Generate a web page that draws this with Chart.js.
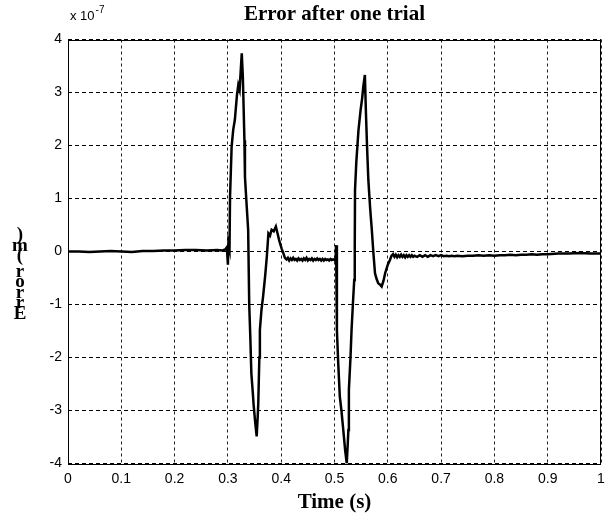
<!DOCTYPE html>
<html>
<head>
<meta charset="utf-8">
<script src="https://cdn.jsdelivr.net/npm/chart.js@4.4.1/dist/chart.umd.min.js"></script>
<style>
  html, body { margin: 0; padding: 0; background: #fff; }
  #wrap { width: 606px; height: 521px; }
</style>
</head>
<body>
<div id="wrap"><canvas id="c" width="606" height="521"></canvas></div>
<script>
// Tracking error over one trial, values in units of 1e-7 m
const timeS = [
  0, 0.02, 0.04, 0.06, 0.08, 0.10, 0.12, 0.14, 0.16, 0.18, 0.20, 0.22, 0.24, 0.26, 0.28,
  0.290, 0.295, 0.298, 0.300, 0.301, 0.303, 0.304, 0.307, 0.310, 0.313, 0.317, 0.3195, 0.322, 0.324,
  0.326, 0.328, 0.329, 0.331, 0.332, 0.335, 0.338, 0.340, 0.342, 0.344, 0.347, 0.348, 0.351, 0.354,
  0.356, 0.357, 0.359, 0.360, 0.363, 0.366, 0.370, 0.373, 0.376, 0.379, 0.382, 0.386, 0.390, 0.393,
  0.396, 0.398, 0.401, 0.404, 0.407,
  0.4100, 0.4125, 0.4150, 0.4175, 0.4200, 0.4225, 0.4250, 0.4275, 0.4300, 0.4325, 0.4350, 0.4375,
  0.4400, 0.4425, 0.4450, 0.4475, 0.4500, 0.4525, 0.4550, 0.4575, 0.4600, 0.4625, 0.4650, 0.4675,
  0.4700, 0.4725, 0.4750, 0.4775, 0.4800, 0.4825, 0.4850, 0.4875, 0.4900, 0.4925, 0.4950, 0.4975,
  0.5000, 0.5020,
  0.503, 0.5045, 0.507, 0.510, 0.513, 0.5165, 0.520, 0.523, 0.525, 0.526, 0.527, 0.530, 0.532, 0.535,
  0.537, 0.538, 0.5385, 0.541, 0.545, 0.549, 0.552, 0.554, 0.557, 0.559, 0.561, 0.5635, 0.567, 0.570,
  0.573, 0.576, 0.579, 0.582, 0.585, 0.5885, 0.592, 0.595, 0.600, 0.604, 0.607, 0.610,
  0.6125, 0.6150, 0.6175, 0.6200, 0.6225, 0.6250, 0.6275, 0.6300, 0.6325, 0.6350, 0.6375, 0.6400,
  0.6425, 0.6450, 0.6475, 0.6500, 0.655, 0.660, 0.665, 0.670, 0.675, 0.680, 0.685, 0.690, 0.695,
  0.700, 0.705, 0.710, 0.715, 0.720, 0.725, 0.730, 0.740, 0.750, 0.760, 0.770, 0.780, 0.790, 0.800,
  0.810, 0.820, 0.830, 0.840, 0.850, 0.860, 0.870, 0.880, 0.890, 0.900, 0.920, 0.940, 0.960, 0.980,
  1.000
];
const errorE7 = [
  0, 0, -0.01, 0, 0.01, 0, -0.01, 0.01, 0.01, 0.02, 0.02, 0.03, 0.03, 0.02, 0.03,
  0.02, 0.04, 0.08, -0.25, 0.15, 0.05, 1.03, 1.98, 2.30, 2.48, 2.95, 3.14, 3.05, 3.40,
  3.74, 3.30, 2.92, 2.10, 1.41, 0.90, 0.41, -1.00, -1.60, -2.30, -2.70, -2.86, -3.20, -3.49,
  -3.10, -2.86, -2.00, -1.48, -1.10, -0.85, -0.45, -0.10, 0.34, 0.30, 0.41, 0.38, 0.47, 0.35,
  0.22, 0.15, 0.05, -0.03, -0.12,
  -0.15, -0.12, -0.17, -0.13, -0.16, -0.12, -0.16, -0.14, -0.17, -0.13, -0.16, -0.14,
  -0.17, -0.13, -0.16, -0.12, -0.17, -0.14, -0.16, -0.13, -0.17, -0.14, -0.16, -0.13,
  -0.16, -0.14, -0.17, -0.14, -0.17, -0.14, -0.16, -0.15, -0.17, -0.14, -0.16, -0.15,
  -0.16, -0.18,
  0.12, -1.48, -2.11, -2.74, -3.00, -3.37, -3.75, -4.00, -3.60, -3.37, -2.61, -2.00, -1.48, -0.90,
  -0.54, 0.09, 1.16, 1.70, 2.29, 2.67, 2.90, 3.11, 3.33, 2.61, 2.00, 1.35, 0.80, 0.41,
  -0.03, -0.41, -0.52, -0.60, -0.62, -0.66, -0.55, -0.41, -0.25, -0.16, -0.08, -0.05,
  -0.10, -0.06, -0.11, -0.07, -0.10, -0.06, -0.10, -0.07, -0.11, -0.07, -0.10, -0.07,
  -0.10, -0.07, -0.10, -0.08, -0.10, -0.07, -0.10, -0.07, -0.10, -0.07, -0.09, -0.07, -0.09,
  -0.07, -0.09, -0.08, -0.09, -0.08, -0.09, -0.08, -0.09, -0.08, -0.08, -0.07, -0.08, -0.07, -0.08,
  -0.07, -0.07, -0.06, -0.07, -0.06, -0.06, -0.05, -0.06, -0.05, -0.05, -0.04, -0.04, -0.03, -0.04,
  -0.04
];
const xTickValues = [0, 0.1, 0.2, 0.3, 0.4, 0.5, 0.6, 0.7, 0.8, 0.9, 1];
const yTickValues = [-4, -3, -2, -1, 0, 1, 2, 3, 4];
const titleText = 'Error after one trial';
const xTitleText = 'Time (s)';
const yTitleText = 'Error (m)';
const exponentBase = 'x 10';
const exponentPower = '-7';

const serifFamily = '"Liberation Serif", "Times New Roman", serif';
const sansFamily = '"Liberation Sans", Arial, sans-serif';

// Frame, title, exponent note and the stacked y label
const decorations = {
  id: 'decorations',
  afterDraw(chart) {
    const { ctx, chartArea: a } = chart;
    ctx.save();
    ctx.strokeStyle = '#000';
    ctx.lineWidth = 1;
    ctx.setLineDash([]);
    ctx.strokeRect(Math.round(a.left) + 0.5, Math.round(a.top) + 0.5,
                   Math.round(a.right - a.left) - 1, Math.round(a.bottom - a.top));

    ctx.fillStyle = '#000';
    ctx.font = 'bold 21px ' + serifFamily;
    ctx.textAlign = 'center';
    ctx.textBaseline = 'middle';
    ctx.fillText(titleText, (a.left + a.right) / 2, 15);

    ctx.textAlign = 'left';
    ctx.textBaseline = 'alphabetic';
    ctx.font = '13px ' + sansFamily;
    ctx.fillText(exponentBase, a.left + 2, 20);
    const w = ctx.measureText(exponentBase).width;
    ctx.font = '10px ' + sansFamily;
    ctx.fillText(exponentPower, a.left + 3 + w, 13);

    // y label: characters upright, stacked from bottom to top
    ctx.font = 'bold 19px ' + serifFamily;
    ctx.textAlign = 'center';
    ctx.textBaseline = 'middle';
    let y = 314;
    for (const ch of yTitleText) {
      if (ch === ' ') { y -= 5; continue; }
      ctx.fillText(ch, 20, y);
      y -= 10.5;
    }
    ctx.restore();
  }
};

new Chart(document.getElementById('c'), {
  type: 'line',
  data: {
    datasets: [{
      data: timeS.map((t, i) => ({ x: t, y: errorE7[i] })),
      borderColor: '#000',
      borderWidth: 2.5,
      pointRadius: 0,
      tension: 0,
      fill: false
    }]
  },
  options: {
    responsive: false,
    animation: false,
    layout: { padding: { top: 39.5, right: 5, bottom: 0, left: 0 } },
    plugins: { legend: { display: false }, tooltip: { enabled: false }, title: { display: false } },
    scales: {
      x: {
        type: 'linear', min: 0, max: 1,
        afterFit(s) { s.height = 57.5; s.paddingRight = 0; s.paddingLeft = 0; },
        afterBuildTicks(s) { s.ticks = xTickValues.map(v => ({ value: v })); },
        ticks: {
          color: '#000', font: { family: sansFamily, size: 14 },
          padding: 7, maxRotation: 0, autoSkip: false,
          callback: v => String(v)
        },
        grid: { color: '#222', lineWidth: 1, drawTicks: false },
        border: { display: false, dash: [3, 3] },
        title: {
          display: true, text: xTitleText, color: '#000',
          font: { family: serifFamily, size: 21, weight: 'bold' },
          padding: { top: 0, bottom: 6 }
        }
      },
      y: {
        type: 'linear', min: -4, max: 4,
        afterFit(s) { s.width = 68; s.paddingTop = 0; s.paddingBottom = 0; },
        afterBuildTicks(s) { s.ticks = yTickValues.map(v => ({ value: v })); },
        ticks: {
          color: '#000', font: { family: sansFamily, size: 14 },
          padding: 6, autoSkip: false,
          callback: v => String(v)
        },
        grid: { color: '#000', lineWidth: 1, drawTicks: false },
        border: { display: false, dash: [4, 3] }
      }
    }
  },
  plugins: [decorations]
});
</script>
</body>
</html>
